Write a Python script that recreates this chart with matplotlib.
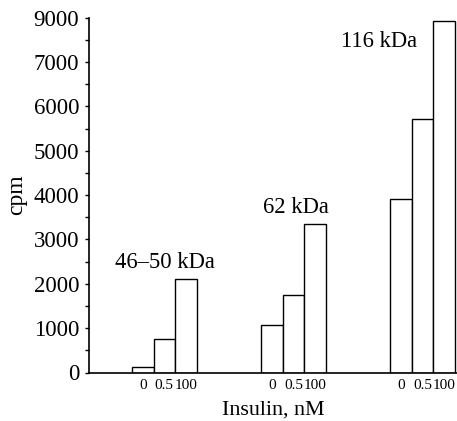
import matplotlib
matplotlib.use("Agg")
import matplotlib.pyplot as plt
from matplotlib.ticker import MultipleLocator

groups = ["46–50 kDa", "62 kDa", "116 kDa"]
doses = ["0", "0.5", "100"]
cpm = [
    [120, 750, 2110],
    [1080, 1745, 3355],
    [3900, 5725, 7930],
]
ytick_vals = [0, 1000, 2000, 3000, 4000, 5000, 6000, 7000, 8000]
ytick_labels = ["0", "1000", "2000", "3000", "4000", "5000", "6000", "7000", "9000"]
group_starts = [2, 8, 14]
label_pos = [(3.55, 2480), (9.6, 3720), (13.5, 7450)]

plt.rcParams["font.family"] = ["Liberation Serif", "DejaVu Serif"]

fig = plt.figure(figsize=(4.57, 4.21), dpi=100)
ax = fig.add_axes([89 / 457, (421 - 372.5) / 421, (457 - 89) / 457, (372.5 - 17.6) / 421])

xticks, xlabels = [], []
for g, start in enumerate(group_starts):
    for i, v in enumerate(cpm[g]):
        x = start + i
        ax.bar(x, v, width=1.0, align="edge", facecolor="white", edgecolor="black", linewidth=1.0)
        xticks.append(x + 0.5)
        xlabels.append(doses[i])
    ax.text(label_pos[g][0], label_pos[g][1], groups[g], ha="center", va="center", fontsize=16.3)

ax.set_xlim(0, 17.1)
ax.set_ylim(0, 8000)
ax.set_yticks(ytick_vals)
ax.set_yticklabels(ytick_labels, fontsize=16.5)
ax.yaxis.set_minor_locator(MultipleLocator(500))
ax.tick_params(axis="y", which="both", direction="out", length=3, width=1, pad=4)
ax.set_xticks(xticks)
ax.set_xticklabels(xlabels, fontsize=11)
ax.tick_params(axis="x", length=0, pad=5)

for s in ["top", "right"]:
    ax.spines[s].set_visible(False)
ax.spines["left"].set_linewidth(1.2)
ax.spines["bottom"].set_linewidth(1.2)

ax.set_ylabel("cpm", fontsize=17, labelpad=5)
ax.set_xlabel("Insulin, nM", fontsize=15.8, labelpad=6)

fig.savefig("out.png", dpi=100)
